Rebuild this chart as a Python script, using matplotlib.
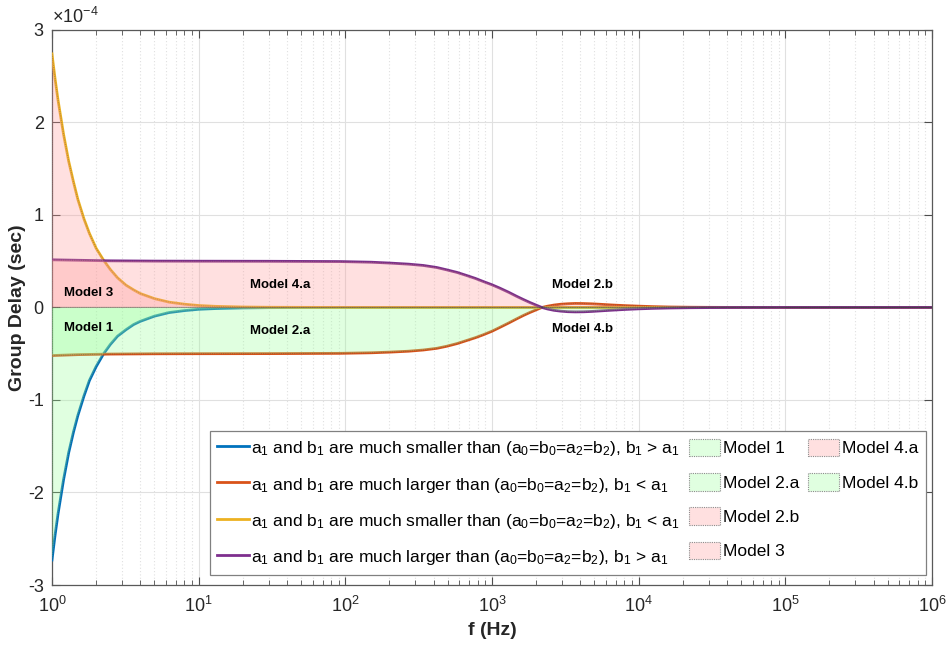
import matplotlib
matplotlib.use("Agg")
import matplotlib.pyplot as plt
from matplotlib.lines import Line2D
from matplotlib.patches import Patch
from matplotlib.ticker import FuncFormatter, NullFormatter, LogFormatterSciNotation
import numpy as np

plt.rcParams['font.family'] = ['Liberation Sans', 'DejaVu Sans']
plt.rcParams['mathtext.fontset'] = 'custom'
plt.rcParams['mathtext.rm'] = 'Liberation Sans'
plt.rcParams['mathtext.it'] = 'Liberation Sans'
plt.rcParams['mathtext.bf'] = 'Liberation Sans:bold'
plt.rcParams['mathtext.default'] = 'regular'
plt.rcParams['axes.unicode_minus'] = False

# Group delay in units of 1e-4 s
SCALE = 1e-4

f_low = [1.0, 1.05, 1.1, 1.2, 1.3, 1.4, 1.5, 1.65, 1.8, 2.0, 2.25, 2.5, 2.8,
         3.2, 3.6, 4.0, 5.0, 6.3, 8.0, 10, 13, 20, 30, 50, 100, 1e3, 1e4, 1e5, 1e6]
gd_blue = [-2.73, -2.46, -2.23, -1.86, -1.57, -1.35, -1.17, -0.96, -0.79, -0.64,
           -0.50, -0.40, -0.31, -0.24, -0.185, -0.15, -0.094, -0.055, -0.034,
           -0.02, -0.012, -0.005, -0.002, -0.001, 0, 0, 0, 0, 0]
gd_yellow = [2.74, 2.47, 2.24, 1.87, 1.58, 1.36, 1.17, 0.96, 0.80, 0.64,
             0.51, 0.41, 0.32, 0.24, 0.19, 0.15, 0.095, 0.057, 0.035,
             0.021, 0.012, 0.005, 0.002, 0.001, 0, 0, 0, 0, 0]

f_mid = [1, 1.5, 2.5, 5, 10, 30, 92, 150, 200, 270, 340, 420, 490, 580, 670,
         770, 870, 1000, 1130, 1300, 1470, 1640, 1810, 2000, 2180, 2400, 2650,
         2950, 3300, 3700, 4200, 4800, 5500, 6500, 8000, 10000, 12500, 16000,
         22000, 30000, 45000, 1e5, 1e6]
gd_red = [-0.52, -0.51, -0.504, -0.501, -0.500, -0.499, -0.496, -0.490, -0.483,
          -0.473, -0.460, -0.442, -0.420, -0.390, -0.358, -0.327, -0.296, -0.257,
          -0.216, -0.168, -0.124, -0.086, -0.055, -0.026, -0.001, 0.014, 0.026,
          0.035, 0.040, 0.043, 0.042, 0.039, 0.034, 0.027, 0.020, 0.014, 0.009,
          0.005, 0.0025, 0.0012, 0.0004, 0, 0]
gd_purple = [0.515, 0.51, 0.504, 0.501, 0.500, 0.499, 0.496, 0.489, 0.480,
             0.468, 0.454, 0.432, 0.407, 0.378, 0.346, 0.314, 0.281, 0.245,
             0.209, 0.164, 0.121, 0.085, 0.054, 0.025, 0.001, -0.017, -0.031,
             -0.040, -0.046, -0.048, -0.047, -0.043, -0.037, -0.030, -0.022,
             -0.015, -0.010, -0.006, -0.003, -0.0015, -0.0005, 0, 0]

x_major_ticks = [1, 10, 100, 1e3, 1e4, 1e5, 1e6]
y_ticks = [-3, -2, -1, 0, 1, 2, 3]

series_labels = [
    r"a$_1$ and b$_1$ are much smaller than (a$_0$=b$_0$=a$_2$=b$_2$), b$_1$ > a$_1$",
    r"a$_1$ and b$_1$ are much larger than (a$_0$=b$_0$=a$_2$=b$_2$), b$_1$ < a$_1$",
    r"a$_1$ and b$_1$ are much smaller than (a$_0$=b$_0$=a$_2$=b$_2$), b$_1$ < a$_1$",
    r"a$_1$ and b$_1$ are much larger than (a$_0$=b$_0$=a$_2$=b$_2$), b$_1$ > a$_1$",
]
series_colors = ['#0072BD', '#D95319', '#EDB120', '#7E2F8E']

region_labels = ["Model 1", "Model 2.a", "Model 2.b", "Model 3", "Model 4.a", "Model 4.b"]
region_kind = ['g', 'g', 'p', 'p', 'p', 'g']
region_text_pos = [(1.21, -0.22), (22.4, -0.25), (2560, 0.238), (1.21, 0.158),
                   (22.4, 0.238), (2560, -0.23)]

GREEN = (0.6, 1.0, 0.6)
PINK = (1.0, 0.6, 0.6)
FILL_ALPHA = 0.3
EDGE = dict(edgecolor='0.25', linestyle=(0, (1, 1)), linewidth=0.8)

fig = plt.figure(figsize=(9.5, 6.5), dpi=100)
ax = fig.add_axes([0.0547, 0.1, 0.9263, 0.854])

fl = np.array(f_low)
fm = np.array(f_mid)
curves = [(fl, np.array(gd_blue)), (fm, np.array(gd_red)),
          (fl, np.array(gd_yellow)), (fm, np.array(gd_purple))]

for (fx, gy), c in zip(curves, series_colors):
    ax.plot(fx, gy * SCALE, color=c, lw=2.0, zorder=3)

# Shaded model regions between each curve and zero
fb, yb = curves[0]
ax.fill_between(fb, yb * SCALE, 0, facecolor=GREEN, alpha=FILL_ALPHA, zorder=4, **EDGE)
fr, yr = curves[1]
ax.fill_between(fr, yr * SCALE, 0, where=yr <= 0, interpolate=True,
                facecolor=GREEN, alpha=FILL_ALPHA, zorder=4, **EDGE)
ax.fill_between(fr, yr * SCALE, 0, where=yr >= 0, interpolate=True,
                facecolor=PINK, alpha=FILL_ALPHA, zorder=4, **EDGE)
fy, yy = curves[2]
ax.fill_between(fy, yy * SCALE, 0, facecolor=PINK, alpha=FILL_ALPHA, zorder=4, **EDGE)
fp, yp = curves[3]
ax.fill_between(fp, yp * SCALE, 0, where=yp >= 0, interpolate=True,
                facecolor=PINK, alpha=FILL_ALPHA, zorder=4, **EDGE)
ax.fill_between(fp, yp * SCALE, 0, where=yp <= 0, interpolate=True,
                facecolor=GREEN, alpha=FILL_ALPHA, zorder=4, **EDGE)

for lab, (tx, ty) in zip(region_labels, region_text_pos):
    ax.text(tx, ty * SCALE, lab, fontsize=9.5, fontweight='bold',
            ha='left', va='center', zorder=6)

ax.set_xscale('log')
ax.set_xlim(1, 1e6)
ax.set_ylim(-3 * SCALE, 3 * SCALE)
ax.set_yticks(np.array(y_ticks) * SCALE)
ax.yaxis.set_major_formatter(FuncFormatter(lambda v, p: f"{v / SCALE:.0f}"))
ax.text(0.0, 1.006, r"$\times$10$^{-4}$", transform=ax.transAxes,
        ha='left', va='bottom', fontsize=13, color='0.15')
ax.set_xticks(x_major_ticks)
ax.xaxis.set_major_formatter(LogFormatterSciNotation())
minor = [m * d for d in x_major_ticks[:-1] for m in range(2, 10)]
ax.set_xticks(minor, minor=True)
ax.xaxis.set_minor_formatter(NullFormatter())

ax.tick_params(which='both', direction='in', top=True, right=True, color='0.3',
               labelsize=13, labelcolor='0.15')
ax.tick_params(which='major', length=6, width=0.8)
ax.tick_params(axis='x', which='major', pad=8)
ax.tick_params(axis='y', which='major', pad=6)
ax.tick_params(which='minor', length=3.5, width=0.6)
for s in ax.spines.values():
    s.set_color('0.35')
    s.set_linewidth(0.9)

ax.grid(which='major', color='0.88', lw=0.8, zorder=0)
ax.grid(which='minor', axis='x', color='0.88', ls=(0, (1, 2)), lw=0.8, zorder=0)
ax.set_axisbelow(True)

ax.set_xlabel('f (Hz)', fontsize=14, fontweight='bold', color='0.15', labelpad=4)
ax.set_ylabel('Group Delay (sec)', fontsize=14, fontweight='bold', color='0.15')
ax.yaxis.set_label_coords(-0.029, 0.5)

handles = [Line2D([], [], color=c, lw=2) for c in series_colors]
labels = list(series_labels)
for lab, k in zip(region_labels, region_kind):
    col = GREEN if k == 'g' else PINK
    fc = tuple(1 - FILL_ALPHA * (1 - v) for v in col)
    handles.append(Patch(facecolor=fc, edgecolor='0.55', linestyle=(0, (1, 1)), linewidth=0.8))
    labels.append(lab)
for _ in range(2):
    handles.append(Patch(facecolor='none', edgecolor='none'))
    labels.append('')

leg = ax.legend(handles, labels, ncol=3, loc='lower right',
                bbox_to_anchor=(0.993, 0.018), borderaxespad=0, fontsize=12.5,
                fancybox=False, framealpha=1, edgecolor='0.5',
                handlelength=1.8, handleheight=1.2, handletextpad=0.15,
                columnspacing=0.5, labelspacing=0.95, borderpad=0.45)
leg.get_frame().set_linewidth(0.9)
leg.set_zorder(10)

fig.savefig('out.png', dpi=100)
